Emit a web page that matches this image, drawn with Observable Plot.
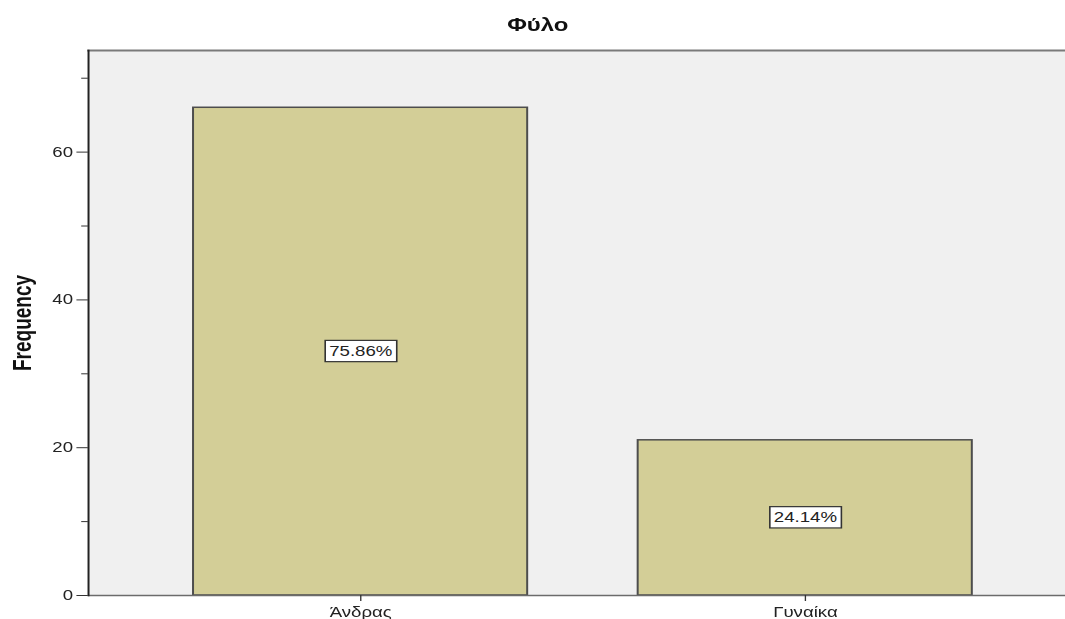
<!DOCTYPE html>
<html>
<head>
<meta charset="utf-8">
<script src="https://cdn.jsdelivr.net/npm/d3@7"></script>
<script src="https://cdn.jsdelivr.net/npm/@observablehq/plot@0.6"></script>
<style>
  html, body { margin: 0; padding: 0; background: #fff; overflow: hidden; }
  #chart {
    position: relative;
    width: 800px;
    height: 619px;
    transform: scaleX(1.33125);
    transform-origin: 0 0;
    font-family: "Liberation Sans", Arial, sans-serif;
  }
  #title {
    position: absolute;
    left: 0;
    top: 16px;
    width: 808px;
    text-align: center;
    font-size: 18px;
    line-height: 18px;
    font-weight: bold;
    color: #111;
  }
</style>
</head>
<body>
<div id="chart"><div id="title">Φύλο</div></div>
<script>
// Gender frequencies
const categories = ["Άνδρας", "Γυναίκα"];
const counts = [66, 21];
const yTicks = [0, 20, 40, 60];
const yMinorTicks = [10, 30, 50, 70];
const yMax = 73.75;

const total = d3.sum(counts);
const rows = categories.map((c, i) => ({sex: c, count: counts[i], pct: counts[i] / total}));
const fmtPct = d => (d * 100).toFixed(2) + "%";

const chart = Plot.plot({
  width: 800,
  height: 619,
  marginLeft: 66,
  marginRight: 0,
  marginTop: 50,
  marginBottom: 24,
  style: {
    fontFamily: "'Liberation Sans', Arial, sans-serif",
    fontSize: "14px",
    color: "#222",
    background: "transparent"
  },
  x: {type: "band", domain: categories, range: [66, 808.6], paddingInner: 0.25, paddingOuter: 0.234, align: 0.5},
  y: {domain: [0, yMax]},
  marks: [
    Plot.frame({fill: "#f0f0f0", stroke: null}),
    Plot.barY(rows, {x: "sex", y: "count", fill: "#d3ce97", stroke: "#4d4d4d", strokeWidth: 1.5}),
    Plot.text(rows, {x: "sex", y: d => d.count / 2, text: d => fmtPct(d.pct), fontSize: 14, fill: "#222"}),
    Plot.ruleY([0], {stroke: "#6b6b6b", strokeWidth: 1.5}),
    Plot.frame({anchor: "top", stroke: "#7a7a7a", strokeWidth: 2}),
    Plot.frame({anchor: "left", stroke: "#222", strokeWidth: 1.5}),
    Plot.axisY(yTicks, {tickSize: 8.6, tickPadding: 3, fontSize: 14, label: null, stroke: "#333"}),
    Plot.axisY(yMinorTicks, {tickSize: 5, tickFormat: () => "", label: null, stroke: "#333"}),
    Plot.axisX({tickSize: 6, tickPadding: 6, fontSize: 14, label: null, stroke: "#333"}),
    Plot.text(["Frequency"], {frameAnchor: "left", textAnchor: "middle", rotate: -90, dx: -49, fontWeight: "bold", fontSize: 19, fill: "#111"})
  ]
});

document.getElementById("chart").append(chart);

// Boxed percentage labels inside the bars
d3.select(chart).selectAll("text")
  .filter(function() { return /%$/.test(this.textContent); })
  .each(function() {
    const b = this.getBBox();
    const padX = 3, padY = 3;
    const t = this.getAttribute("transform");
    const rect = document.createElementNS("http://www.w3.org/2000/svg", "rect");
    rect.setAttribute("x", b.x - padX);
    rect.setAttribute("y", b.y - padY);
    rect.setAttribute("width", b.width + 2 * padX);
    rect.setAttribute("height", b.height + 2 * padY);
    if (t) rect.setAttribute("transform", t);
    rect.setAttribute("fill", "#fff");
    rect.setAttribute("stroke", "#333");
    rect.setAttribute("stroke-width", 1.2);
    this.parentNode.insertBefore(rect, this);
  });
</script>
</body>
</html>
